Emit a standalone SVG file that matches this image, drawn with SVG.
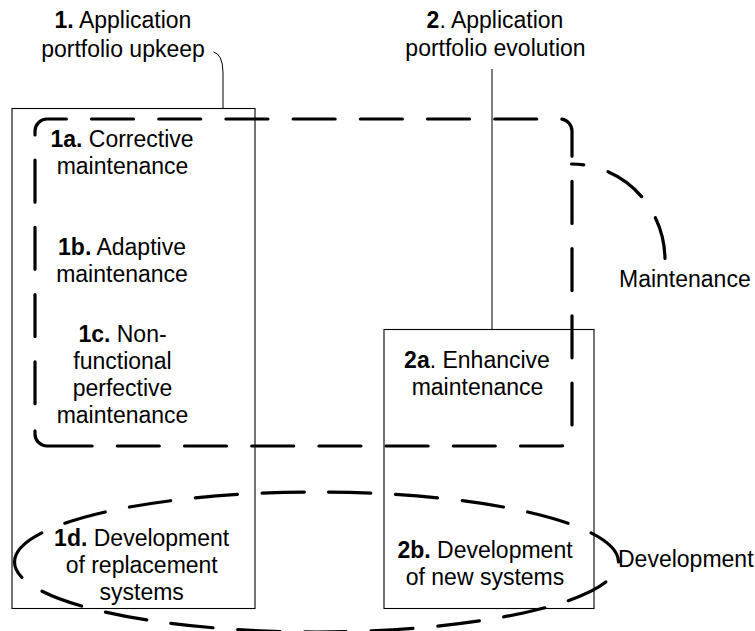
<svg xmlns="http://www.w3.org/2000/svg" width="755" height="631" viewBox="0 0 755 631">
<style>
text{font-family:"Liberation Sans",Arial,sans-serif;font-size:23px;fill:#000}
.c{text-anchor:middle}
.b{font-weight:bold}
.box{fill:none;stroke:#000;stroke-width:1.1}
.thin{fill:none;stroke:#000;stroke-width:1}
.dash{fill:none;stroke:#000;stroke-width:3.2;stroke-linecap:round;stroke-linejoin:round}
</style>
<rect width="755" height="631" fill="#fff"/>
<g id="upkeep">
<rect class="box" x="12" y="108.5" width="243" height="500"/>
<text class="c" x="123" y="28"><tspan class="b">1.</tspan> Application</text>
<text class="c" x="123" y="57">portfolio upkeep</text>
</g>
<g id="evolution">
<rect class="box" x="384" y="329.5" width="210" height="279"/>
<text class="c" x="495" y="28"><tspan class="b">2</tspan>. Application</text>
<text class="c" x="495.5" y="56">portfolio evolution</text>
</g>
<g id="connectors">
<path class="thin" d="M213.5,52 Q222.5,54 223,72 V108.5"/>
<path class="thin" d="M492,69 V329.5"/>
</g>
<g id="n1a"><text class="c" x="122" y="147"><tspan class="b">1a.</tspan> Corrective</text><text class="c" x="122.5" y="174">maintenance</text></g>
<g id="n1b"><text class="c" x="122" y="255"><tspan class="b">1b.</tspan> Adaptive</text><text class="c" x="122" y="282">maintenance</text></g>
<g id="n1c"><text class="c" x="122.5" y="342"><tspan class="b">1c.</tspan> Non-</text><text class="c" x="122.5" y="369">functional</text><text class="c" x="122.5" y="396">perfective</text><text class="c" x="122.5" y="423">maintenance</text></g>
<g id="n1d"><text class="c" x="141.7" y="546"><tspan class="b">1d.</tspan> Development</text><text class="c" x="141.7" y="573">of replacement</text><text class="c" x="141.7" y="600">systems</text></g>
<g id="n2a"><text class="c" x="477" y="368"><tspan class="b">2a</tspan>. Enhancive</text><text class="c" x="477.5" y="395">maintenance</text></g>
<g id="n2b"><text class="c" x="485" y="558"><tspan class="b">2b.</tspan> Development</text><text class="c" x="485" y="585">of new systems</text></g>
<g id="maintenance">
<path class="dash" stroke-dasharray="67 27 42 25.2 42 25.2 42 25.2 42 25.2 42 25.2 42 25.2 42 25.2 42 25.2 42 25.2 42 25.2 42 25.2 42 25.2 42 25.2 42 25.2 42 25.2 42 25.2 42 25.2 42 25.2 42 25.2 42 25.2 42 25.2 42 25.2 42 25.2 42 25.2" d="M92,446 H47 A12,12 0 0 1 35,434 V131 A12,12 0 0 1 47,119 H560 A12,12 0 0 1 572,131 V434 A12,12 0 0 1 560,446 Z"/>
<path class="dash" stroke-dasharray="42 25.2" stroke-dashoffset="29.6" d="M571.5,164 A94,96 0 0 1 665,260"/>
<text x="619" y="287">Maintenance</text>
</g>
<g id="development">
<path class="dash" stroke-dasharray="42 24.7" d="M14.5,562 A302,70 0 0 1 618.5,562 A302,70 0 0 1 14.5,562 Z"/>
<text x="618" y="567">Development</text>
</g>
</svg>
